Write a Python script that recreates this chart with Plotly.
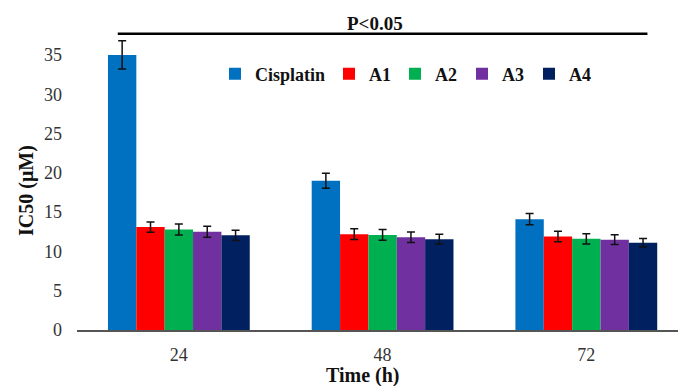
import plotly.graph_objects as go

categories = ["24", "48", "72"]
series_names = ["Cisplatin", "A1", "A2", "A3", "A4"]
cisplatin = [35.0, 19.0, 14.1]
a1 = [13.1, 12.2, 11.9]
a2 = [12.8, 12.1, 11.6]
a3 = [12.5, 11.8, 11.5]
a4 = [12.05, 11.55, 11.1]
cisplatin_err = [1.8, 0.95, 0.72]
a1_err = [0.65, 0.68, 0.68]
a2_err = [0.7, 0.68, 0.65]
a3_err = [0.7, 0.68, 0.62]
a4_err = [0.65, 0.62, 0.55]
colors = ["#0070C0", "#FF0000", "#00B050", "#7030A0", "#002060"]

values = [cisplatin, a1, a2, a3, a4]
errors = [cisplatin_err, a1_err, a2_err, a3_err, a4_err]

FONT = "Liberation Serif"
legend_px = [215, 329, 395, 462, 529]  # legend left edge in pixels

fig = go.Figure()
legend_ids = ["legend"] + ["legend%d" % k for k in range(2, 6)]
for i, (name, vals, errs, col) in enumerate(zip(series_names, values, errors, colors)):
    fig.add_trace(go.Bar(
        x=categories, y=vals,
        name='<span style="font-family:Liberation Serif"><b>' + name + "</b></span>",
        marker=dict(color=col, line=dict(width=0)),
        error_y=dict(type="data", array=errs, visible=True,
                     color="#111111", thickness=1.5, width=4),
        legend=legend_ids[i],
    ))

legend_font = dict(family=FONT, size=18, color="#111111")
legends = {}
for lid, px in zip(legend_ids, legend_px):
    legends[lid] = dict(orientation="h", x=(px - 77) / 601, y=0.845,
                        xanchor="left", yanchor="middle", font=legend_font,
                        bgcolor="rgba(0,0,0,0)")

fig.update_layout(
    width=678, height=386,
    margin=dict(l=77, r=0, t=27, b=56),
    plot_bgcolor="white", paper_bgcolor="white",
    barmode="group", bargap=0.304, bargroupgap=0,
    font=dict(family=FONT, size=18, color="#222222"),
    xaxis=dict(type="category", range=[-0.5, 2.45], showline=True,
               linecolor="#555555", linewidth=1.5, ticks="", showgrid=False,
               tickfont=dict(family=FONT, size=18, color="#333333"),
               ticklabelstandoff=8),
    yaxis=dict(range=[0, 38.56], tickmode="linear", tick0=0, dtick=5,
               showline=False, showgrid=False, zeroline=False, ticks="",
               tickfont=dict(family=FONT, size=18, color="#333333"),
               ticklabelstandoff=14),
    showlegend=True,
    **legends,
)

# significance bracket line
fig.add_shape(type="line", xref="x", yref="y", x0=-0.3, x1=2.3, y0=37.7, y1=37.7,
              line=dict(color="black", width=2.5))
fig.add_annotation(text="<b>P<0.05</b>", xref="paper", yref="paper",
                   x=(375 - 77) / 601, y=(330 - 24) / 303, yanchor="middle",
                   showarrow=False,
                   font=dict(family=FONT, size=19, color="#111111"))
# axis titles
fig.add_annotation(text="<b>Time (h)</b>", xref="paper", yref="paper",
                   x=(363 - 77) / 601, y=-0.105, yanchor="top", showarrow=False,
                   font=dict(family=FONT, size=20, color="#111111"))
fig.add_annotation(text="<b>IC50 (μM)</b>", xref="paper", yref="paper",
                   x=-0.085, xanchor="center", y=(330 - 190) / 303, yanchor="middle",
                   textangle=-90, showarrow=False,
                   font=dict(family=FONT, size=20, color="#111111"))

fig.write_html("out.html", config={"displayModeBar": False},
               post_script="document.body.style.margin='0px';")
